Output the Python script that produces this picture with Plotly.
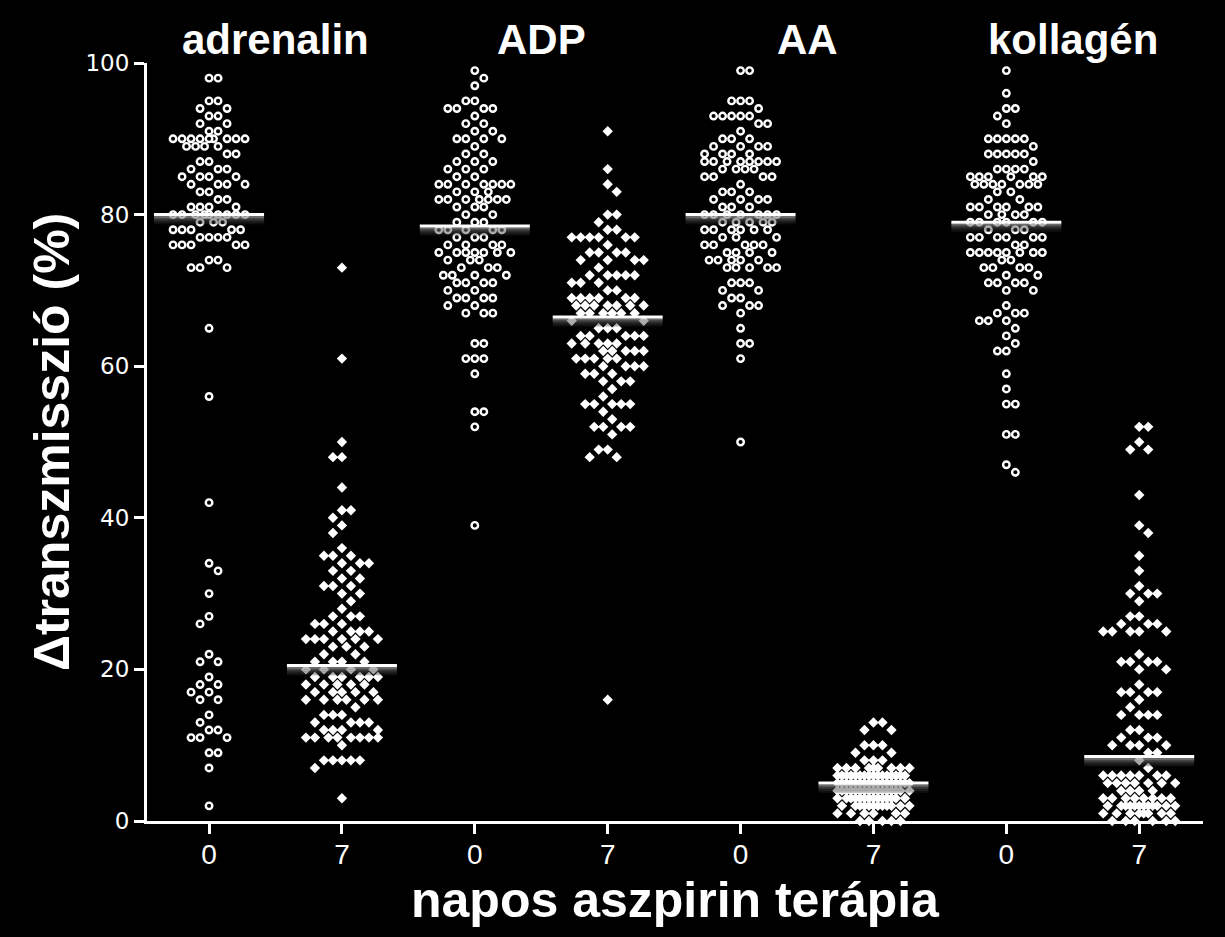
import numpy as np
import plotly.graph_objects as go

# ---------------- data (Δ transmission %) ----------------
group_names = ["adrenalin", "ADP", "AA", "kollagén"]
day_labels = ["0", "7", "0", "7", "0", "7", "0", "7"]
x_title = "napos aszpirin terápia"
y_title = "Δtranszmisszió (%)"
y_ticks = [0, 20, 40, 60, 80, 100]

adrenalin_0 = [98, 98, 95, 95, 94, 94, 93, 93, 92, 92, 91, 91,
               90, 90, 90, 90, 90, 90, 90, 90, 90,
               89, 89, 89, 89, 88, 88, 87, 87, 86, 86, 86, 85, 85, 85, 85,
               84, 84, 84, 84, 83, 83, 82, 82, 81, 81, 81, 81,
               80, 80, 80, 80, 80, 80, 80, 80, 80, 79, 79, 79,
               78, 78, 78, 78, 78, 77, 77, 77, 77, 76, 76, 76, 76, 76,
               74, 74, 73, 73, 73,
               65, 56, 42, 34, 33, 30, 27, 26, 22, 21, 21, 19, 18, 18, 17, 17,
               16, 16, 14, 13, 12, 12, 11, 11, 11, 9, 9, 7, 2]

adrenalin_7 = [73, 61, 50, 48, 48, 44, 41, 41, 40, 39, 38, 36, 35, 35, 35,
               34, 34, 34, 33, 33, 32, 32, 31, 31, 31, 30, 30, 29, 28,
               27, 27, 27, 26, 26, 26, 25, 25, 25, 25,
               24, 24, 24, 24, 24, 24, 23, 23, 23, 22, 22, 21, 21, 21, 21,
               20, 20, 20, 20, 19, 19, 19, 19, 19, 19, 18, 18, 18, 18, 18,
               17, 17, 17, 17, 17, 16, 16, 16, 16, 16, 16, 15, 14, 14, 14,
               13, 13, 13, 13, 12, 12, 12, 12, 11, 11, 11, 11, 11, 11, 11, 11,
               10, 8, 8, 8, 8, 8, 7, 3]

adp_0 = [99, 98, 97, 95, 95, 94, 94, 94, 94, 93, 92, 92, 91, 91,
         90, 90, 90, 90, 89, 88, 88, 87, 87, 87, 86, 86, 86, 85, 85,
         84, 84, 84, 84, 84, 84, 84, 83, 83, 83, 82, 82, 82, 82, 82, 82, 82,
         81, 81, 81, 80, 80, 79, 79, 79, 78, 78, 78, 78, 78, 77, 77, 77,
         76, 76, 76, 76, 75, 75, 75, 75, 75, 75, 75, 74, 74, 74, 73, 73, 73,
         72, 72, 72, 72, 71, 71, 71, 71, 70, 70, 69, 69, 69, 69, 68, 68,
         67, 67, 67, 63, 63, 61, 61, 61, 59, 54, 54, 52, 39]

adp_7 = [91, 86, 84, 83, 80, 80, 79, 78, 78, 77, 77, 77, 77, 77, 77, 76,
         75, 75, 75, 75, 74, 74, 74, 74, 73, 72, 72, 72, 72, 72, 71, 71, 71,
         70, 70, 69, 69, 69, 69, 69, 69, 68, 68, 68, 68, 68, 68, 68,
         67, 67, 67, 67, 67, 67, 66, 66, 65, 65, 65, 64, 64, 64, 64, 64,
         63, 63, 63, 63, 63, 62, 62, 62, 62, 62, 61, 61, 61, 61, 61,
         60, 60, 60, 60, 59, 59, 59, 58, 58, 58, 57, 56, 55, 55, 55, 55, 55,
         54, 53, 52, 52, 52, 52, 51, 49, 49, 48, 48, 16]

aa_0 = [99, 99, 95, 95, 95, 94, 93, 93, 93, 93, 93, 92, 92, 91, 90, 90, 90,
        89, 89, 89, 89, 88, 88, 88, 88, 87, 87, 87, 87, 87, 87, 87, 87,
        86, 86, 86, 86, 85, 85, 85, 85, 84, 83, 83, 83, 82, 82, 82, 82,
        81, 81, 81, 80, 80, 80, 80, 80, 80, 80, 79, 79, 79, 79, 79,
        78, 78, 78, 78, 78, 78, 77, 77, 77, 76, 76, 76, 76, 76,
        75, 75, 75, 75, 74, 74, 74, 74, 74, 73, 73, 73, 73, 73,
        71, 71, 71, 70, 70, 69, 69, 68, 68, 68, 67, 65, 63, 63, 61, 50]

aa_7 = [13, 13, 12, 12, 10, 10, 10, 9, 9, 8, 8, 8,
        7, 7, 7, 7, 7, 7, 7, 7, 7,
        6, 6, 6, 6, 6, 6, 6, 6, 6, 6, 6, 6, 6, 6, 6, 6,
        5, 5, 5, 5, 5, 5, 5, 5, 5, 5, 5, 5, 5, 5, 5, 5, 5, 5,
        4, 4, 4, 4, 4, 4, 4, 4, 4, 4, 4, 4, 4, 4, 4, 4,
        3, 3, 3, 3, 3, 3, 3, 3, 3, 3, 3, 3, 3, 3,
        2, 2, 2, 2, 2, 2, 2, 2, 2, 2, 2, 2,
        1, 1, 1, 1, 1, 1, 0, 0, 0, 0, 0]

koll_0 = [99, 96, 94, 94, 93, 92, 90, 90, 90, 90, 90, 89, 88, 88, 88, 88, 88,
          87, 86, 86, 86, 86, 85, 85, 85, 85, 85, 85, 84, 84, 84, 84, 84, 84, 84,
          83, 83, 82, 82, 81, 81, 81, 81, 81, 81, 80, 80, 80, 80,
          79, 79, 79, 79, 79, 79, 78, 78, 78, 77, 77, 77, 77, 77, 77, 76, 76,
          75, 75, 75, 75, 75, 75, 75, 75, 74, 74, 73, 73, 73, 73, 72, 72,
          71, 71, 71, 71, 70, 70, 68, 67, 67, 67, 66, 66, 66, 65, 64, 63,
          62, 62, 59, 57, 55, 55, 51, 51, 47, 46]

koll_7 = [52, 52, 50, 49, 49, 43, 39, 38, 35, 33, 31, 30, 30, 30, 29, 27, 27,
          26, 26, 26, 25, 25, 25, 25, 25, 22, 21, 21, 21, 21, 20, 20, 18,
          17, 17, 17, 17, 16, 15, 14, 14, 14, 14, 12, 12, 11, 11, 11,
          10, 10, 10, 10, 9, 9, 8, 7, 6, 6, 6, 6, 6, 6, 6, 5, 5, 5, 5, 5, 5, 5,
          4, 4, 4, 4, 3, 3, 3, 3, 3, 3, 3, 3, 2, 2, 2, 2, 2, 2, 2, 2, 2, 2, 2, 2,
          1, 1, 1, 1, 1, 1, 1, 1, 0, 0, 0, 0, 0, 0]

series = [adrenalin_0, adrenalin_7, adp_0, adp_7, aa_0, aa_7, koll_0, koll_7]

# ---------------- layout geometry ----------------
W, H = 1225, 937
ML, MR, MT, MB = 147, 22, 63, 116
X_RANGE = [-0.467, 7.48]
Y_RANGE = [0, 100]
px_x = (W - ML - MR) / (X_RANGE[1] - X_RANGE[0])
px_y = (H - MT - MB) / (Y_RANGE[1] - Y_RANGE[0])


def swarm_offsets(vals, diam=9.0, step=4.5, maxhalf=38.0):
    """Beeswarm: horizontal pixel offsets so markers do not overlap."""
    order = sorted(range(len(vals)), key=lambda i: -vals[i])
    cands = [0.0]
    k = 1
    while k * step <= maxhalf:
        cands += [-k * step, k * step]
        k += 1
    placed = []
    offs = [0.0] * len(vals)
    for n, i in enumerate(order):
        yp = vals[i] * px_y
        near = [(px, py) for px, py in placed if abs(py - yp) < diam]
        chosen, best_c, best_d = None, 0.0, -1.0
        cl = cands if n % 2 == 0 else [-c for c in cands]
        for c in cl:
            d = min((np.hypot(c - px, yp - py) for px, py in near), default=1e9)
            if d >= diam - 0.01:
                chosen = c
                break
            if d > best_d:
                best_d, best_c = d, c
        if chosen is None:
            chosen = best_c
        placed.append((chosen, yp))
        offs[i] = chosen
    return np.array(offs) / px_x


fig = go.Figure()

for gi, vals in enumerate(series):
    offs = swarm_offsets(vals)
    xs = gi + offs
    if gi % 2 == 0:
        marker = dict(symbol="circle", size=6.5, color="black",
                      line=dict(color="white", width=2.4))
    else:
        marker = dict(symbol="diamond", size=8, color="white",
                      line=dict(color="white", width=0))
    fig.add_trace(go.Scatter(x=xs, y=vals, mode="markers", marker=marker,
                             cliponaxis=False, showlegend=False, hoverinfo="y"))

# median lines with soft shadow
half = 55 / px_x
for gi, vals in enumerate(series):
    med = float(np.median(vals))
    for dpx, col in [(2.5, "rgba(150,150,150,0.7)"), (4.5, "rgba(105,105,105,0.55)"),
                     (6.5, "rgba(70,70,70,0.45)"), (8.5, "rgba(45,45,45,0.35)")]:
        yy = med - dpx / px_y
        fig.add_trace(go.Scatter(x=[gi - half, gi + half], y=[yy, yy], mode="lines",
                                 line=dict(color=col, width=2.2), cliponaxis=False,
                                 showlegend=False, hoverinfo="skip"))
    fig.add_trace(go.Scatter(x=[gi - half, gi + half], y=[med, med], mode="lines",
                             line=dict(color="white", width=3), cliponaxis=False,
                             showlegend=False, hoverinfo="skip"))

annotations = []
for k, name in enumerate(group_names):
    annotations.append(dict(x=2 * k + 0.5, y=(H - MB - 40) / (H - MT - MB), xref="x", yref="paper",
                            text=f"<b>{name}</b>", showarrow=False, yanchor="middle",
                            font=dict(family="Liberation Sans, Arial, sans-serif", size=42,
                                      color="white")))
annotations.append(dict(x=0.5, xref="paper", y=-(900 - (H - MB)) / (H - MT - MB), yref="paper",
                        text=f"<b>{x_title}</b>", showarrow=False, yanchor="middle",
                        font=dict(family="Liberation Sans, Arial, sans-serif", size=50,
                                  color="white")))
annotations.append(dict(x=-(ML - 52) / (W - ML - MR), xref="paper", y=0.5, yref="paper",
                        text=f"<b>{y_title}</b>", showarrow=False, textangle=-90,
                        xanchor="center", yanchor="middle",
                        font=dict(family="Liberation Sans, Arial, sans-serif", size=50,
                                  color="white")))

fig.update_layout(
    width=W, height=H,
    margin=dict(l=ML, r=MR, t=MT, b=MB),
    paper_bgcolor="black", plot_bgcolor="black",
    font=dict(family="Liberation Sans, Arial, sans-serif", color="white"),
    annotations=annotations,
    xaxis=dict(range=X_RANGE, tickmode="array", tickvals=list(range(8)),
               ticktext=day_labels, showgrid=False, zeroline=False,
               showline=True, linecolor="white", linewidth=3,
               ticks="outside", ticklen=10, tickwidth=3, tickcolor="white",
               ticklabelstandoff=-4,
               tickfont=dict(family="Liberation Sans Narrow, Arial Narrow, Liberation Sans, sans-serif",
                             size=28, color="white")),
    yaxis=dict(range=Y_RANGE, tickmode="array", tickvals=y_ticks,
               showgrid=False, zeroline=False,
               showline=True, linecolor="white", linewidth=3,
               ticks="outside", ticklen=10, tickwidth=3, tickcolor="white",
               tickfont=dict(family="DejaVu Sans, sans-serif", size=23, color="white")),
)

fig.write_html("out.html")
